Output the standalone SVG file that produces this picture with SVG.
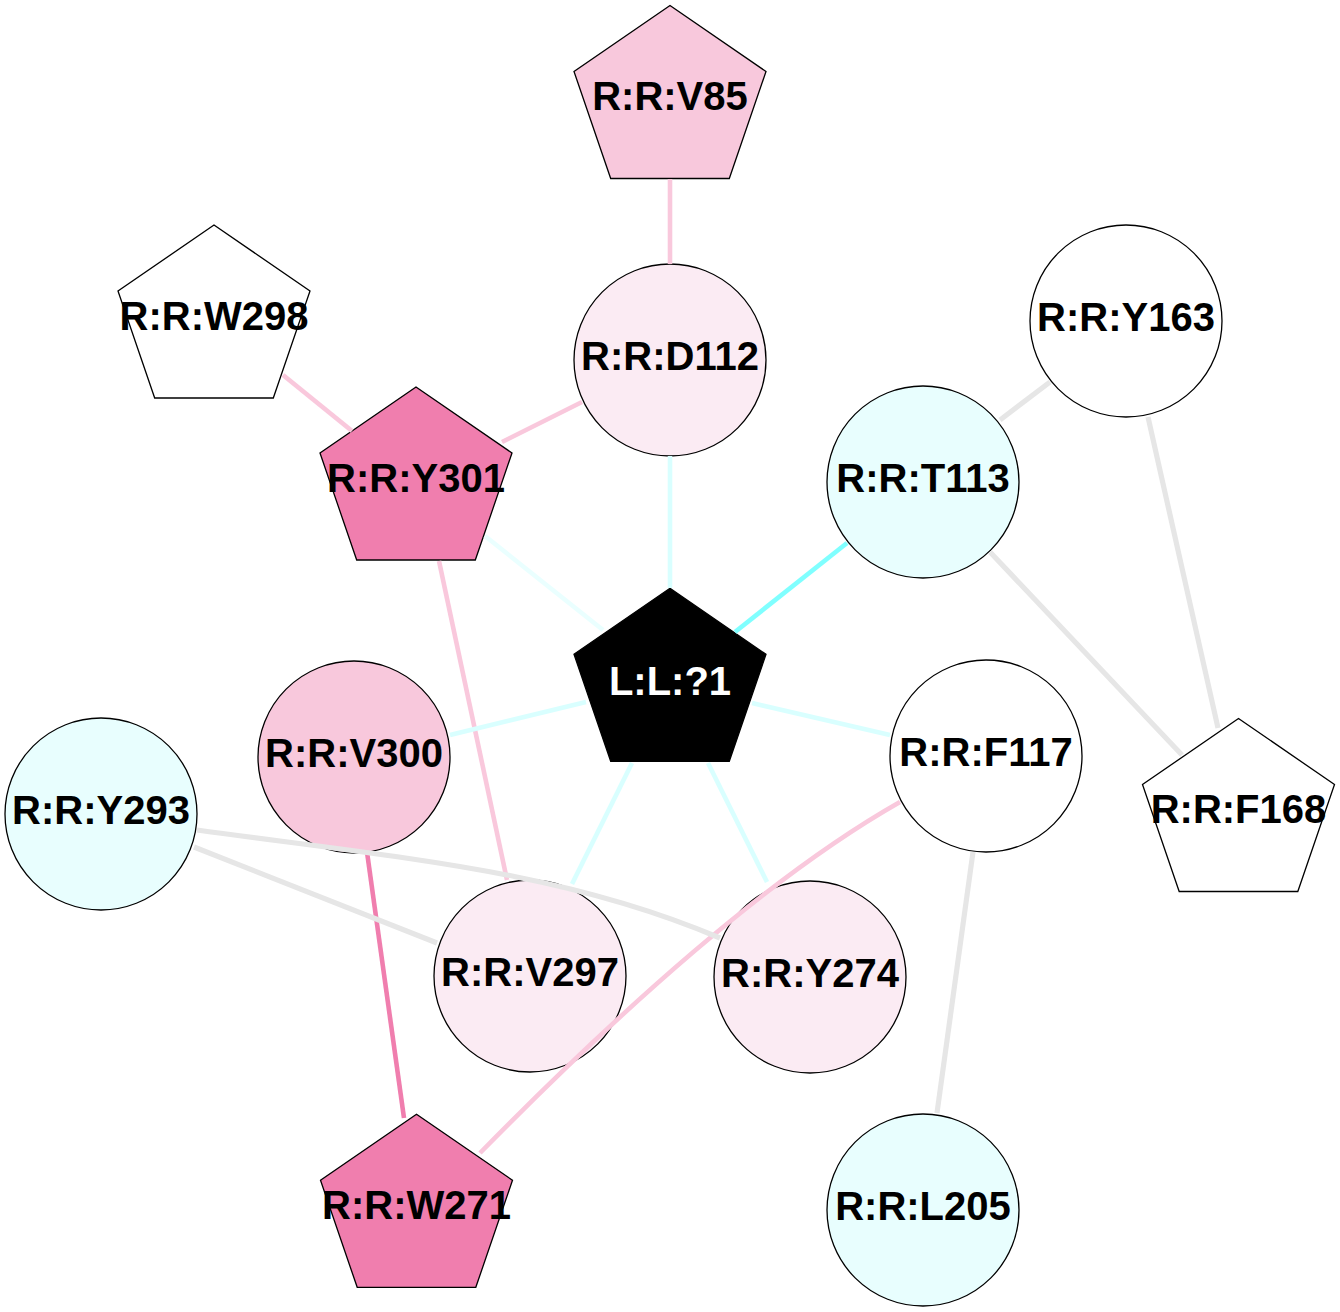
<svg xmlns="http://www.w3.org/2000/svg" width="1340" height="1312" viewBox="0 0 1340 1312">
<style>
.n{stroke:#000;stroke-width:1.3}
.t{font-family:"Liberation Sans",Arial,sans-serif;font-weight:bold;font-size:40px;text-anchor:middle;fill:#000}
.e{fill:none;stroke-width:4.6;stroke-linecap:butt}
.g{stroke:#E6E6E6;stroke-width:5.2}
.p{stroke:#F9C8DC}
.c{stroke:#D9FFFF}
</style>
<rect width="1340" height="1312" fill="#fff"/>
<g id="nodes">
<g id="V85"><polygon class="n" fill="#F8C8DC" points="670,5.5 766,71.5 729.3,178.5 610.7,178.5 574,71.5"/><text class="t" x="670" y="110">R:R:V85</text></g>
<g id="W298"><polygon class="n" fill="#FFFFFF" points="214,225 310,291 273.3,398 154.7,398 118,291"/><text class="t" x="214" y="330">R:R:W298</text></g>
<g id="Y301"><polygon class="n" fill="#F07EAE" points="416,387 512,453 475.3,560 356.7,560 320,453"/><text class="t" x="416" y="492">R:R:Y301</text></g>
<g id="L1"><polygon class="n" fill="#000000" points="670,588.3 766,654.3 729.3,761.3 610.7,761.3 574,654.3"/><text class="t" x="670" y="695" style="fill:#fff">L:L:?1</text></g>
<g id="F168"><polygon class="n" fill="#FFFFFF" points="1238.5,718.5 1334.5,784.5 1297.8,891.5 1179.2,891.5 1142.5,784.5"/><text class="t" x="1238.5" y="823">R:R:F168</text></g>
<g id="W271"><polygon class="n" fill="#F07EAE" points="416.5,1114.3 512.5,1180.3 475.8,1287.3 357.2,1287.3 320.5,1180.3"/><text class="t" x="416.5" y="1219">R:R:W271</text></g>
<g id="D112"><circle class="n" fill="#FBEBF3" cx="670" cy="360" r="96"/><text class="t" x="670" y="370">R:R:D112</text></g>
<g id="Y163"><circle class="n" fill="#FFFFFF" cx="1126" cy="321" r="96"/><text class="t" x="1126" y="331">R:R:Y163</text></g>
<g id="T113"><circle class="n" fill="#E8FEFE" cx="923" cy="482" r="96"/><text class="t" x="923" y="492">R:R:T113</text></g>
<g id="F117"><circle class="n" fill="#FFFFFF" cx="986" cy="756" r="96"/><text class="t" x="986" y="766">R:R:F117</text></g>
<g id="V300"><circle class="n" fill="#F8C8DC" cx="354" cy="757" r="96"/><text class="t" x="354" y="767">R:R:V300</text></g>
<g id="Y293"><circle class="n" fill="#E8FEFE" cx="101" cy="814" r="96"/><text class="t" x="101" y="824">R:R:Y293</text></g>
<g id="V297"><circle class="n" fill="#FBEBF3" cx="530" cy="976" r="96"/><text class="t" x="530" y="986">R:R:V297</text></g>
<g id="Y274"><circle class="n" fill="#FBEBF3" cx="810" cy="977" r="96"/><text class="t" x="810" y="987">R:R:Y274</text></g>
<g id="L205"><circle class="n" fill="#E8FEFE" cx="923" cy="1210" r="96"/><text class="t" x="923" y="1220">R:R:L205</text></g>
</g>
<g id="connectors">
<path class="e p" d="M670,179 L670,264"/>
<path class="e p" d="M582,402 L502,442"/>
<path class="e p" d="M283,375 L352,431"/>
<path class="e p" d="M439,561 L507,880"/>
<path class="e p" d="M900,802 C780,870 640,990 480,1153"/>
<path class="e" stroke="#F07EAE" stroke-width="5.5" d="M367,852 L404,1118"/>
<path class="e c" d="M670,456 L670,588"/>
<path class="e" stroke="#80FFFF" stroke-width="5.5" d="M847,543 L735,632"/>
<path class="e" stroke="#EAFFFF" d="M485,536 L603,630"/>
<path class="e c" d="M450,735 L586,702"/>
<path class="e c" d="M752,703 L890,735"/>
<path class="e c" d="M632,763 L572,884"/>
<path class="e c" d="M708,763 L767,882"/>
<path class="e g" d="M1050,382 L1000,420"/>
<path class="e g" d="M1148,417 L1218,728"/>
<path class="e g" d="M990,552 L1182,755"/>
<path class="e g" d="M973,852 L937,1113"/>
<path class="e g" d="M194,847 L437,943"/>
<path class="e g" d="M197,830 C400,858 560,870 720,938"/>
</g>
</svg>
